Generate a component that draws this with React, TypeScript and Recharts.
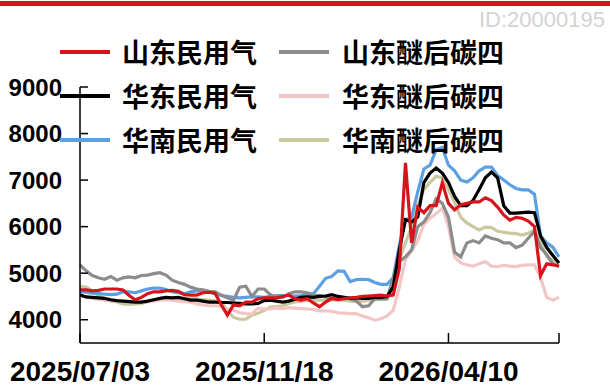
import { LineChart, Line, XAxis, YAxis } from 'recharts'

// 山东民用气
const sdGas = [
	4640, 4640, 4620, 4630, 4660, 4660, 4660, 4640, 4520, 4430,
	4480, 4560, 4600, 4600, 4620, 4630, 4610, 4540, 4530, 4530,
	4580, 4590, 4570, 4320, 4100, 4320, 4300, 4380, 4380, 4450,
	4470, 4470, 4470, 4500, 4530, 4450, 4420, 4450, 4360, 4280,
	4380, 4460, 4430, 4450, 4470, 4480, 4500, 4510, 4520, 4530,
	4510, 4530, 5100, 7370, 5650, 6420, 6300, 6450, 6450, 6940,
	6500, 6360, 6470, 6500, 6530, 6530, 6620, 6560, 6420, 6250,
	6140, 6200, 6180, 6120, 6000, 4950, 5200, 5180, 5150,
]
// 山东醚后碳四
const sdC4 = [
	5180, 5050, 4950, 4900, 4870, 4930, 4850, 4900, 4920, 4900,
	4950, 4960, 4990, 5010, 4960, 4850, 4800, 4760, 4700, 4660,
	4640, 4610, 4600, 4530, 4470, 4420, 4700, 4720, 4500, 4660,
	4660, 4540, 4480, 4480, 4560, 4600, 4600, 4580, 4530, 4520,
	4490, 4460, 4470, 4480, 4450, 4400, 4280, 4300, 4450, 4450,
	4450, 4900, 5250, 5350, 5500, 6000, 6100, 6300, 6600, 6500,
	6200, 5450, 5350, 5650, 5700, 5650, 5800, 5750, 5720, 5650,
	5650, 5550, 5600, 5750, 5900, 5550, 5400, 5200, 5150,
]
// 华东民用气
const hdGas = [
	4530, 4490, 4480, 4470, 4460, 4430, 4410, 4400, 4390, 4380,
	4380, 4400, 4430, 4460, 4480, 4470, 4480, 4450, 4420, 4420,
	4400, 4380, 4380, 4370, 4370, 4360, 4350, 4340, 4340, 4350,
	4410, 4420, 4400, 4380, 4400, 4440, 4480, 4490, 4480, 4500,
	4510, 4540, 4500, 4480, 4460, 4470, 4460, 4460, 4480, 4480,
	4500, 4700, 5500, 6150, 6100, 6210, 6950, 7150, 7260, 7150,
	6950, 6650, 6450, 6450, 6560, 6800, 7050, 7170, 7050, 6450,
	6290, 6290, 6300, 6310, 6300, 5800, 5550, 5380, 5220,
]
// 华东醚后碳四
const hdC4 = [
	4520, 4480, 4460, 4440, 4420, 4420, 4410, 4400, 4400, 4390,
	4380, 4400, 4400, 4420, 4430, 4420, 4400, 4390, 4380, 4340,
	4320, 4300, 4300, 4290, 4220, 4200, 4150, 4130, 4120, 4250,
	4230, 4230, 4250, 4240, 4260, 4250, 4240, 4230, 4220, 4190,
	4190, 4180, 4150, 4140, 4130, 4130, 4080, 4040, 3990, 4020,
	4080, 4200, 4700, 5300, 5480, 5700, 6050, 6180, 6280, 6400,
	6000, 5350, 5220, 5180, 5150, 5200, 5250, 5150, 5140, 5170,
	5150, 5140, 5170, 5180, 5180, 4900, 4480, 4420, 4480,
]
// 华南民用气
const hnGas = [
	4600, 4590, 4570, 4560, 4550, 4540, 4550, 4600, 4600, 4580,
	4620, 4660, 4680, 4680, 4650, 4600, 4580, 4560, 4600, 4620,
	4620, 4600, 4560, 4520, 4500, 4480, 4470, 4480, 4490, 4490,
	4480, 4500, 4520, 4520, 4520, 4510, 4520, 4540, 4560, 4720,
	4890, 4930, 5050, 5040, 4820, 4860, 4870, 4860, 4800, 4760,
	4760, 4900, 5600, 6150, 6200, 6750, 7240, 7320, 7650, 7700,
	7320, 7200, 7000, 6960, 7050, 7200, 7280, 7280, 7100, 7000,
	6900, 6820, 6790, 6790, 6700, 5800, 5650, 5560, 5350,
]
// 华南醚后碳四
const hnC4 = [
	4720, 4700, 4620, 4520, 4450, 4400, 4380, 4340, 4330, 4340,
	4350, 4380, 4420, 4440, 4460, 4460, 4470, 4460, 4450, 4450,
	4430, 4420, 4400, 4380, 4200, 4050, 4010, 4010, 4100, 4140,
	4200, 4270, 4280, 4300, 4350, 4380, 4400, 4410, 4420, 4420,
	4420, 4420, 4430, 4420, 4400, 4390, 4400, 4420, 4430, 4440,
	4450, 4700, 5300, 5650, 5990, 6450, 6800, 6950, 7080, 7050,
	6800, 6520, 6200, 6080, 6000, 5930, 5990, 5980, 5900, 5880,
	5860, 5850, 5820, 5860, 5930, 5650, 5350, 5270, 5200,
]

const tickIdx = [0, 30, 60, 78]
const tickLabels = ['2025/07/03', '2025/11/18', '2026/04/10', '']
const yTicks = [4000, 5000, 6000, 7000, 8000, 9000]

const series = [
	{ key: 'sdGas', name: '山东民用气', color: '#D7141C', values: sdGas },
	{ key: 'sdC4', name: '山东醚后碳四', color: '#8C8C8C', values: sdC4 },
	{ key: 'hdGas', name: '华东民用气', color: '#000000', values: hdGas },
	{ key: 'hdC4', name: '华东醚后碳四', color: '#F3C6C6', values: hdC4 },
	{ key: 'hnGas', name: '华南民用气', color: '#5CA0E4', values: hnGas },
	{ key: 'hnC4', name: '华南醚后碳四', color: '#CBC79E', values: hnC4 },
]

// draw order: light ones first, red last
const drawOrder = ['hnC4', 'hdC4', 'hnGas', 'sdC4', 'hdGas', 'sdGas']

const data = sdGas.map((_, i) => {
	const row: Record<string, number> = { i }
	series.forEach(s => (row[s.key] = s.values[i]))
	return row
})

const numFont = '"Liberation Sans", Arial, sans-serif'

const YTick = (props: any) => {
	const { x, y, payload } = props
	return (
		<g>
			<line x1={x} x2={x + 8} y1={y} y2={y} stroke='#000' strokeWidth={1.5} />
			<text
				x={x - 18}
				y={y}
				dy='0.36em'
				textAnchor='end'
				fontSize={24}
				fontWeight='bold'
				fontFamily={numFont}
				fill='#000'
			>
				{payload.value}
			</text>
		</g>
	)
}

const XTick = (props: any) => {
	const { x, y, payload } = props
	const label = tickLabels[tickIdx.indexOf(payload.value)] ?? ''
	return (
		<g>
			<line x1={x} x2={x} y1={y} y2={y - 10} stroke='#000' strokeWidth={1.5} />
			<text
				x={x}
				y={y + 38}
				textAnchor='middle'
				fontSize={28}
				fontWeight='bold'
				fontFamily={numFont}
				fill='#000'
			>
				{label}
			</text>
		</g>
	)
}

const legendCols = [
	{ line: 60, text: 122 },
	{ line: 279, text: 342 },
]
const legendRows = [52, 96, 140]

const ChartLegend = () => (
	<>
		{series.map((s, n) => {
			const col = legendCols[n % 2]
			const cy = legendRows[Math.floor(n / 2)]
			return (
				<div key={s.key}>
					<div
						style={{
							position: 'absolute',
							left: col.line,
							top: cy - 2,
							width: 50,
							height: 4,
							background: s.color,
						}}
					/>
					<div
						style={{
							position: 'absolute',
							left: col.text,
							top: cy - 20,
							height: 40,
							lineHeight: '40px',
							fontSize: 27,
							fontWeight: 'bold',
							fontFamily: '"Noto Sans CJK SC", sans-serif',
							color: '#000',
							whiteSpace: 'nowrap',
						}}
					>
						{s.name}
					</div>
				</div>
			)
		})}
	</>
)

const App = () => {
	return (
		<div
			style={{
				position: 'absolute',
				left: 0,
				top: 0,
				width: 610,
				height: 387,
				background: '#fff',
				overflow: 'hidden',
			}}
		>
			<div
				style={{
					position: 'absolute',
					left: 0,
					top: 1,
					width: 610,
					height: 5,
					background: '#D7141C',
				}}
			/>
			<div
				style={{
					position: 'absolute',
					right: 5,
					top: 9,
					fontSize: 22,
					lineHeight: '22px',
					fontFamily: numFont,
					color: '#D3D3D3',
				}}
			>
				ID:20000195
			</div>
			<LineChart
				width={610}
				height={387}
				data={data}
				margin={{ top: 87, right: 51, bottom: 0, left: 0 }}
			>
				<XAxis
					type='number'
					dataKey='i'
					domain={[0, 78]}
					ticks={tickIdx}
					interval={0}
					height={44}
					tickSize={0}
					tickMargin={0}
					axisLine={{ stroke: '#000', strokeWidth: 1.5 }}
					tick={<XTick />}
				/>
				<YAxis
					domain={[3500, 9000]}
					ticks={yTicks}
					interval={0}
					width={80}
					tickSize={0}
					tickMargin={0}
					axisLine={{ stroke: '#000', strokeWidth: 1.5 }}
					tick={<YTick />}
				/>
				{drawOrder.map(k => {
					const s = series.find(x => x.key === k)!
					return (
						<Line
							key={k}
							type='linear'
							dataKey={k}
							name={s.name}
							stroke={s.color}
							strokeWidth={3.2}
							dot={false}
							isAnimationActive={false}
						/>
					)
				})}
			</LineChart>
			<ChartLegend />
		</div>
	)
}

export default App
